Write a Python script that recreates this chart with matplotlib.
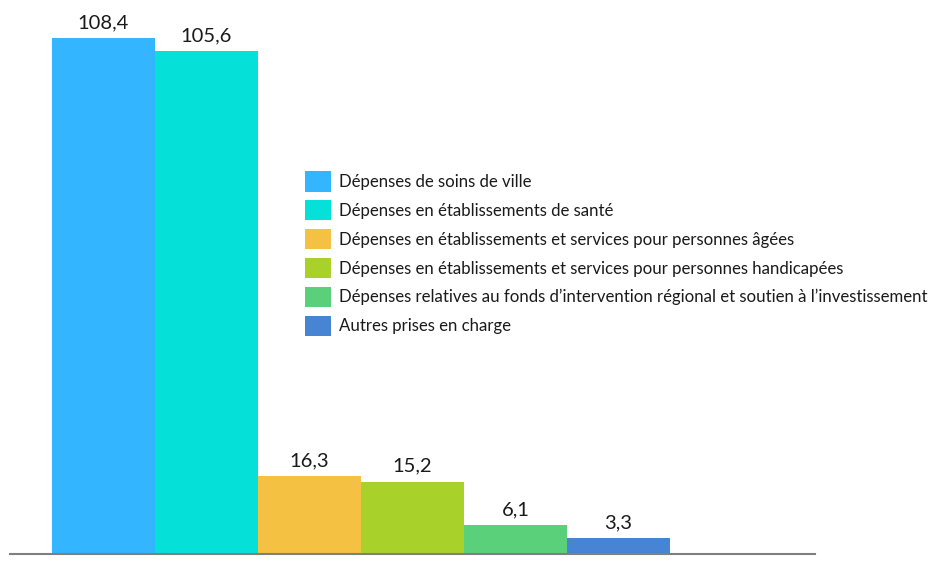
import matplotlib
matplotlib.use("Agg")
import matplotlib.pyplot as plt

categories = [
    "Dépenses de soins de ville",
    "Dépenses en établissements de santé",
    "Dépenses en établissements et services pour personnes âgées",
    "Dépenses en établissements et services pour personnes handicapées",
    "Dépenses relatives au fonds d’intervention régional et soutien à l’investissement",
    "Autres prises en charge",
]
values = [108.4, 105.6, 16.3, 15.2, 6.1, 3.3]
labels = ["108,4", "105,6", "16,3", "15,2", "6,1", "3,3"]
colors = ["#33B5FF", "#05E0D8", "#F4C142", "#A8D22A", "#5BD07B", "#4784D3"]

plt.rcParams['font.family'] = ['Lato', 'DejaVu Sans']

W, H = 946, 569
fig = plt.figure(figsize=(W / 100, H / 100), dpi=100)
ax_left, ax_right, ax_bottom, ax_top = 10, 815, 554, 10
ax = fig.add_axes([ax_left / W, 1 - ax_bottom / H, (ax_right - ax_left) / W, (ax_bottom - ax_top) / H])

x = list(range(len(values)))
bars = ax.bar(x, values, width=1.0, color=colors, edgecolor='none')
for xi, v, lab in zip(x, values, labels):
    ax.annotate(lab, (xi, v), xytext=(0, 5), textcoords='offset points',
                ha='center', va='bottom', fontsize=14.5, color='#1a1a1a')

ax.set_xlim(-0.908, 6.908)
ax.set_ylim(0, 114.3)
for s in ['top', 'right', 'left']:
    ax.spines[s].set_visible(False)
ax.spines['bottom'].set_color('#7f7f7f')
ax.spines['bottom'].set_linewidth(1.5)
ax.set_xticks([])
ax.set_yticks([])

ax.legend(bars, categories, loc='upper left',
          bbox_to_anchor=(305 / W, 1 - 171 / H), bbox_transform=fig.transFigure,
          frameon=False, borderpad=0, borderaxespad=0, fontsize=12.1,
          handlelength=1.55, handleheight=1.5, handletextpad=0.45,
          labelspacing=0.5, labelcolor='#1a1a1a')

fig.savefig("out.png", dpi=100)
